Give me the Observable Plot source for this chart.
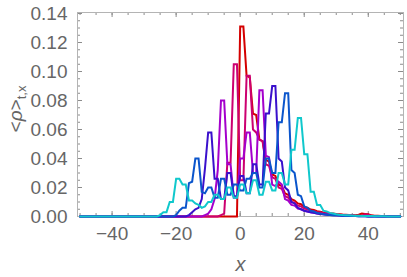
<!DOCTYPE html>
<html><head><meta charset="utf-8">
<script src="https://cdn.jsdelivr.net/npm/d3@7"></script>
<script src="https://cdn.jsdelivr.net/npm/@observablehq/plot@0.6"></script>
<style>body{margin:0;background:#fff} svg{display:block}</style>
</head><body><div id="chart"></div>
<script>
// Series: first x where each list begins, and values at successive integer x
const seriesColors = ["#d40000", "#cc0070", "#a400cc", "#3a10cc", "#0a55cc", "#10c8cc"];
const seriesStart = [-1, -7, -12, -17, -21, -26];
const redValues = [0, .131,.131, .097,.096, .071,.070, .053,.052, .039,.038, .029,.028, .022,.021, .016,.015, .012,.011, .009,.0085, .0065,.006, .0048,.0045, .0036,.0033, .0028,.0026, .0022,.002, .0017,.0015, .0013,.0012, .001,.001, .0008,.0012, .002,.0018, .0016,.0008, .0006,.0005, .0004,.0003, .0002,.0001, 0,0, 0];
const crimsonValues = [0, .001, .002, .037, .037, .105, .105, .025, .025, .097, .097, .060, .058, .053, .052, .036, .035, .027, .026, .020, .019, .014, .013, .010, .0095, .0075, .007, .0055, .005, .004, .0037, .003, .0028, .0024, .0022, .0019, .0017, .0014, .0012, .001, .001, .0008, .0008, .0006, .0006, .0005, .0016, .0012, .0004, .0003, .0002, .0002, .0001, 0];
const purpleValues = [0, .001, .002, .005, .012, .032, .080, .080, .036, .036, .013, .013, .040, .040, .058, .058, .030, .030, .087, .087, .042, .041, .022, .021, .024, .022, .012, .011, .008, .0075, .0055, .005, .004, .0035, .003, .0025, .002, .0018, .0015, .0013, .0011, .001, .0009, .0008, .0007, .0006, .0005, .0005, .0004, .0004, .0003, .0003, .0002, .0002, .0001, 0];
const indigoValues = [0, .001, .003, .005, .006, .012, .033, .058, .058, .026, .026, .012, .012, .030, .030, .014, .014, .028, .028, .016, .016, .036, .036, .022, .022, .071, .071, .090, .090, .040, .038, .020, .018, .010, .009, .006, .005, .004, .0035, .003, .0025, .002, .0018, .0015, .0012, .001, .0009, .0008, .0007, .0006, .0005, .0004, .0003, .0003, .0002, .0002, .0001, 0];
const blueValues = [0, .001, .004, .006, .006, .023, .024, .040, .040, .017, .016, .020, .020, .013, .013, .026, .026, .015, .015, .022, .022, .018, .018, .026, .026, .030, .030, .020, .020, .040, .040, .030, .030, .065, .065, .085, .085, .032, .030, .015, .014, .007, .006, .004, .0035, .0025, .002, .0016, .0013, .001, .0009, .0008, .0007, .0006, .0005, .0004, .0003, .0003, .0002, .0002, .0001, 0];
const cyanValues = [0, .001, .003, .003, .010, .010, .026, .026, .022, .022, .011, .011, .009, .008, .006, .007, .010, .010, .015, .015, .012, .012, .020, .020, .013, .013, .022, .022, .016, .016, .025, .025, .015, .015, .024, .024, .018, .018, .030, .030, .022, .022, .046, .046, .068, .068, .043, .043, .017, .017, .008, .008, .004, .0035, .0025, .002, .0015, .0012, .001, .0009, .0008, .0007, .0006, .0005, .0004, .0004, .0003, .0003, .0002, .0002, .0001, .0001, 0];
const seriesValues = [redValues, crimsonValues, purpleValues, indigoValues, blueValues, cyanValues];

const xEnds = [-50, 50];
const xTickLabels = [-40, -20, 0, 20, 40];
const xTickAll = [-50,-45,-40,-35,-30,-25,-20,-15,-10,-5,0,5,10,15,20,25,30,35,40,45,50];
const xMajor = [-40, -20, 0, 20, 40];
const yTickLabels = [0, 0.02, 0.04, 0.06, 0.08, 0.10, 0.12, 0.14];
const yMinor = [0.005,0.01,0.015,0.025,0.03,0.035,0.045,0.05,0.055,0.065,0.07,0.075,0.085,0.09,0.095,0.105,0.11,0.115,0.125,0.13,0.135];

// build line rows from the arrays
const lines = seriesValues.map((vals, i) => {
  const rows = [{x: xEnds[0], y: 0}];
  vals.forEach((v, k) => rows.push({x: seriesStart[i] + k, y: v}));
  if (rows[rows.length - 1].x < xEnds[1]) rows.push({x: xEnds[1], y: 0});
  return rows;
});

const W = 407, H = 277, mL = 77, mR = 4, mT = 12, mB = 61;
const pw = W - mL - mR, ph = H - mT - mB;
const tickCol = "#8c8c8c", txtCol = "#666";

const chart = Plot.plot({
  width: W, height: H,
  marginLeft: mL, marginRight: mR, marginTop: mT, marginBottom: mB,
  style: {fontFamily: "'Liberation Sans', Arial, sans-serif", background: "#fff"},
  x: {domain: [-50.8, 51.0]},
  y: {domain: [0, 0.1407]},
  marks: [
    // frame ticks (inward)
    Plot.tickX(xTickAll, {x: d => d, insetTop: ph - (xMajor.includes(0) ? 3 : 3), stroke: tickCol, strokeWidth: 1}),
    Plot.tickX(xMajor, {x: d => d, insetTop: ph - 5, stroke: tickCol, strokeWidth: 1}),
    Plot.tickX(xTickAll, {x: d => d, insetBottom: ph - 3, stroke: tickCol, strokeWidth: 1}),
    Plot.tickX(xMajor, {x: d => d, insetBottom: ph - 5, stroke: tickCol, strokeWidth: 1}),
    Plot.tickY(yMinor, {y: d => d, insetRight: pw - 3, stroke: tickCol, strokeWidth: 1}),
    Plot.tickY(yTickLabels, {y: d => d, insetRight: pw - 5, stroke: tickCol, strokeWidth: 1}),
    Plot.tickY(yMinor, {y: d => d, insetLeft: pw - 3, stroke: tickCol, strokeWidth: 1}),
    Plot.tickY(yTickLabels, {y: d => d, insetLeft: pw - 5, stroke: tickCol, strokeWidth: 1}),
    Plot.frame({stroke: "#b4b4b4", strokeWidth: 1}),
    ...lines.map((rows, i) => Plot.line(rows, {x: "x", y: "y", stroke: seriesColors[i], strokeWidth: 2, strokeLinejoin: "miter", strokeMiterlimit: 2})),
    Plot.axisX(xTickLabels, {tickSize: 0, tickPadding: 10, fontSize: 19, color: txtCol, label: null}),
    Plot.axisY(yTickLabels, {tickSize: 0, tickPadding: 10, fontSize: 19, color: txtCol, label: null, tickFormat: d3.format(".2f")}),
    Plot.text(["x"], {frameAnchor: "bottom", dy: 54, lineAnchor: "bottom", fontSize: 20, fontStyle: "italic", fill: txtCol})
  ]
});
document.getElementById("chart").appendChild(chart);

// y-axis label with subscript
const svg = d3.select(chart);
const lab = svg.append("text")
  .attr("transform", "translate(22,109) rotate(-90)")
  .attr("text-anchor", "middle")
  .attr("fill", txtCol)
  .attr("font-size", 19)
  .attr("font-family", "'Liberation Sans', Arial, sans-serif");
lab.append("tspan").text("<");
lab.append("tspan").attr("font-style", "italic").text("ρ");
lab.append("tspan").text(">");
lab.append("tspan").attr("font-size", 13).attr("dy", 4).text("t,x");
</script>
</body></html>
